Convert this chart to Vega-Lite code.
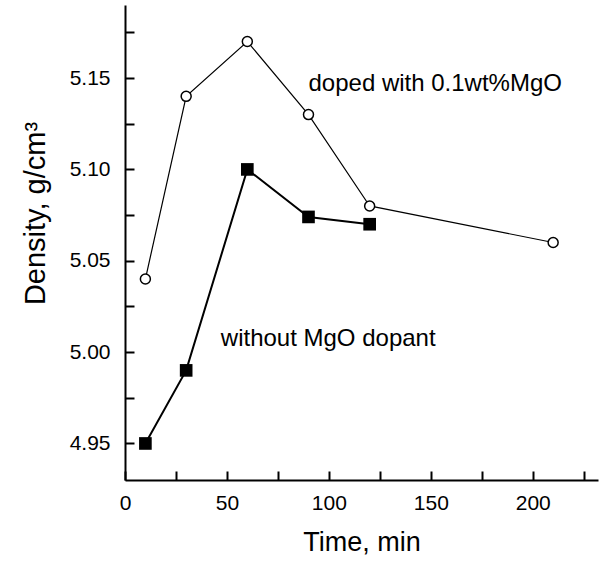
{
  "$schema": "https://vega.github.io/schema/vega-lite/v6.json",
  "width": 473,
  "height": 475,
  "autosize": {"type": "none"},
  "padding": {"left": 125, "top": 5, "right": 5, "bottom": 81},
  "config": {
    "view": {"stroke": null},
    "font": "Liberation Sans",
    "axis": {
      "grid": false,
      "domainColor": "black",
      "domainWidth": 2,
      "tickColor": "black",
      "tickWidth": 2,
      "tickSize": -9,
      "labelColor": "black",
      "labelFont": "Liberation Sans",
      "labelFontSize": 21,
      "titleColor": "black",
      "titleFont": "Liberation Sans",
      "titleFontSize": 27,
      "titleFontWeight": "normal"
    }
  },
  "data": {
    "values": [
      {"series": "doped", "time": 10, "density": 5.04},
      {"series": "doped", "time": 30, "density": 5.14},
      {"series": "doped", "time": 60, "density": 5.17},
      {"series": "doped", "time": 90, "density": 5.13},
      {"series": "doped", "time": 120, "density": 5.08},
      {"series": "doped", "time": 210, "density": 5.06},
      {"series": "undoped", "time": 10, "density": 4.95},
      {"series": "undoped", "time": 30, "density": 4.99},
      {"series": "undoped", "time": 60, "density": 5.10},
      {"series": "undoped", "time": 90, "density": 5.074},
      {"series": "undoped", "time": 120, "density": 5.07}
    ]
  },
  "encoding": {
    "x": {
      "field": "time", "type": "quantitative",
      "scale": {"domain": [0, 232], "nice": false, "zero": false},
      "axis": {
        "title": "Time, min",
        "values": [0, 25, 50, 75, 100, 125, 150, 175, 200, 225],
        "labelExpr": "datum.value % 50 == 0 ? datum.label : ''",
        "labelPadding": 21,
        "titlePadding": 16,
        "labelFlush": false
      }
    },
    "y": {
      "field": "density", "type": "quantitative",
      "scale": {"domain": [4.93, 5.19], "nice": false, "zero": false},
      "axis": {
        "title": "Density, g/cm³",
        "titleFontSize": 29,
        "values": [4.95, 4.975, 5.0, 5.025, 5.05, 5.075, 5.1, 5.125, 5.15, 5.175],
        "labelExpr": "round(datum.value * 1000) % 50 == 0 ? format(datum.value, '.2f') : ''",
        "labelPadding": 24,
        "titlePadding": 19,
        "titleY": 208,
        "labelFlush": false
      }
    }
  },
  "layer": [
    {
      "transform": [{"filter": "datum.series == 'doped'"}],
      "mark": {"type": "line", "color": "black", "strokeWidth": 1.2},
      "encoding": {}
    },
    {
      "transform": [{"filter": "datum.series == 'undoped'"}],
      "mark": {"type": "line", "color": "black", "strokeWidth": 2},
      "encoding": {}
    },
    {
      "transform": [{"filter": "datum.series == 'doped'"}],
      "mark": {"type": "point", "shape": "circle", "filled": true, "fill": "white", "stroke": "black", "strokeWidth": 1.5, "size": 100, "opacity": 1}
    },
    {
      "transform": [{"filter": "datum.series == 'undoped'"}],
      "mark": {"type": "point", "shape": "square", "filled": true, "fill": "black", "stroke": "black", "strokeWidth": 0, "size": 160, "opacity": 1}
    },
    {
      "data": {"values": [
        {"time": 90, "density": 5.147, "label": "doped with 0.1wt%MgO"},
        {"time": 47, "density": 5.007, "label": "without MgO dopant"}
      ]},
      "mark": {"type": "text", "align": "left", "baseline": "middle", "fontSize": 24, "font": "Liberation Sans", "color": "black"},
      "encoding": {
        "text": {"field": "label", "type": "nominal"}
      }
    }
  ]
}
